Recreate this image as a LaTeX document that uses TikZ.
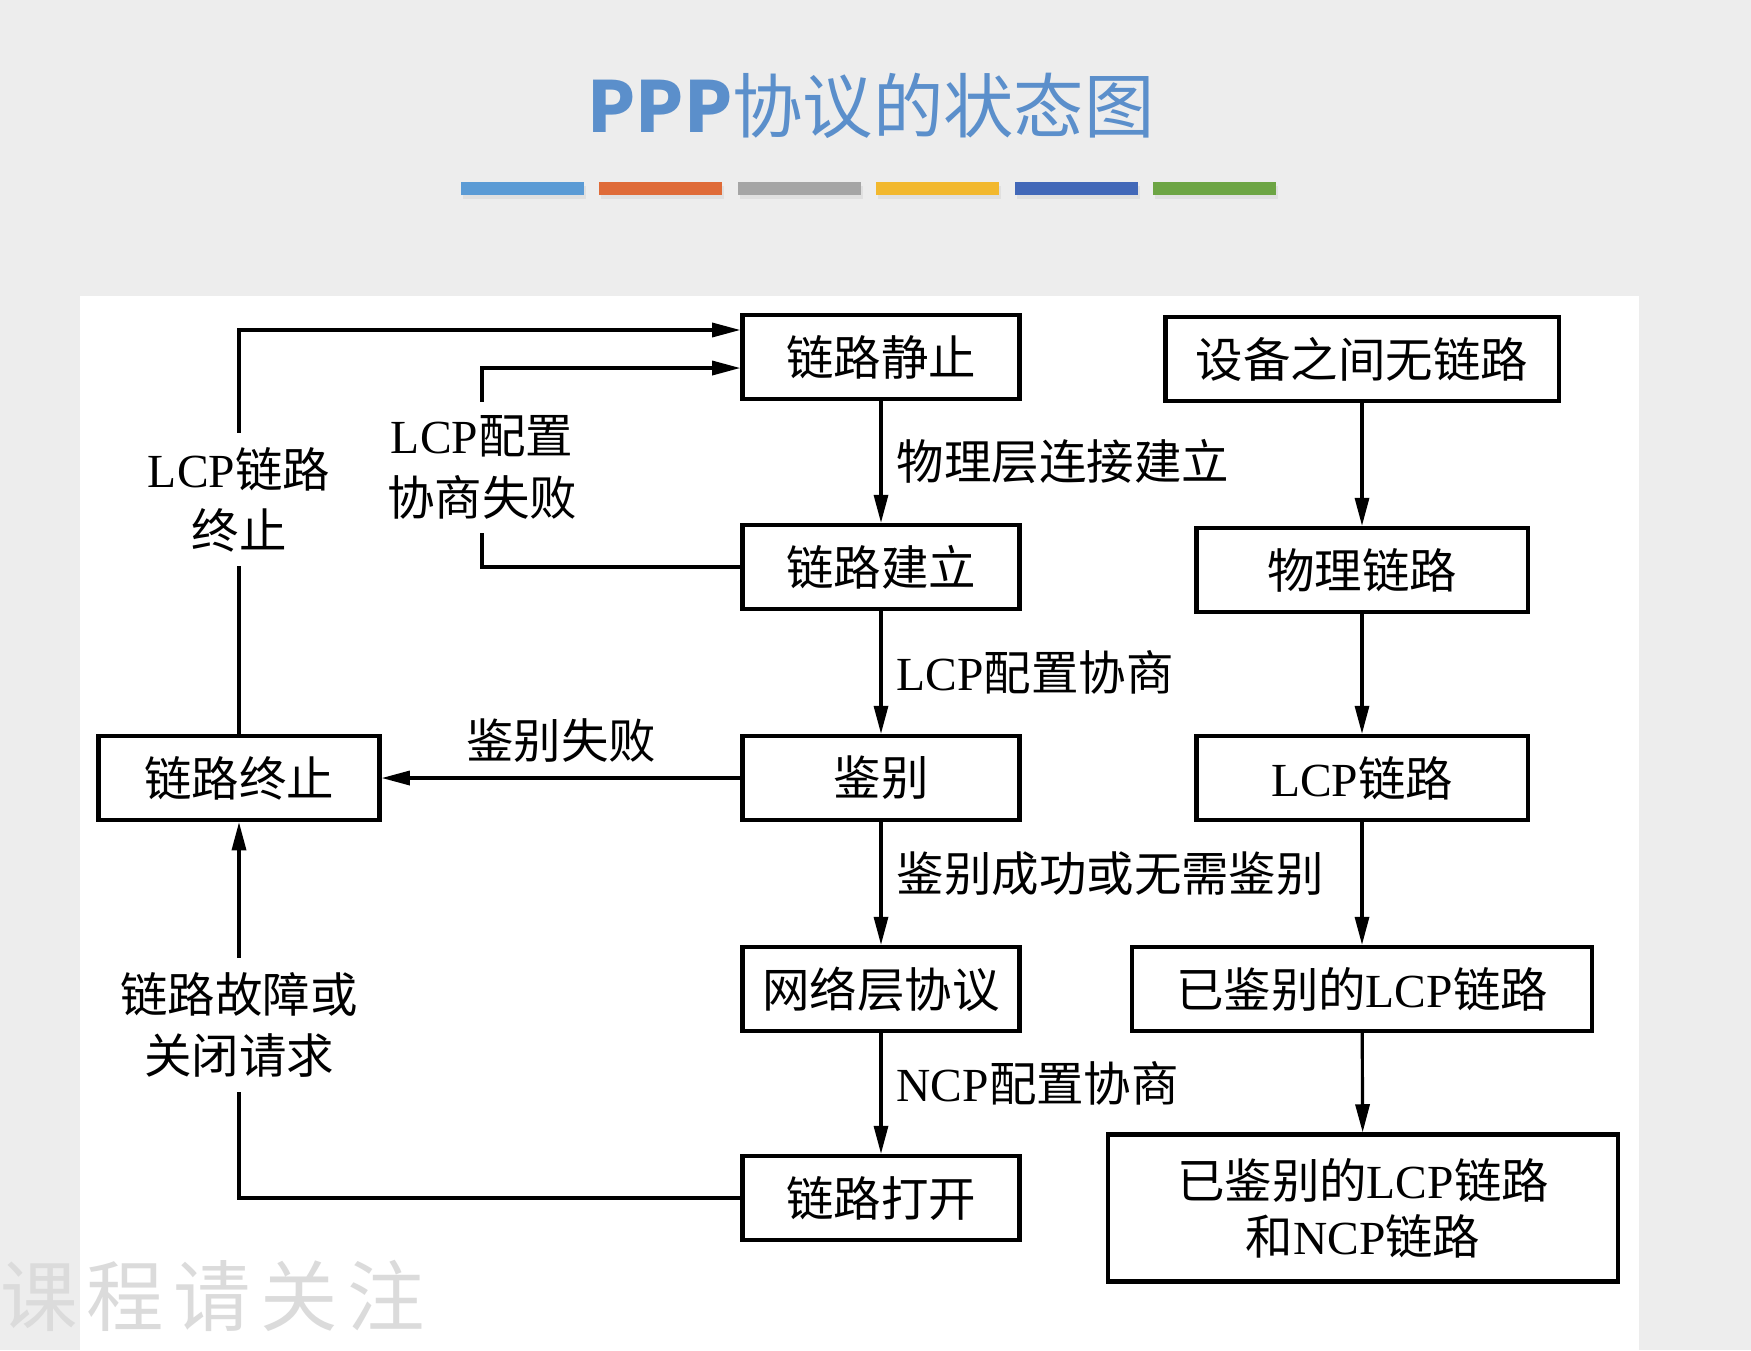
\documentclass[tikz,border=0pt]{standalone}
\usepackage{fontspec}
\setmainfont{Liberation Serif}
\newfontfamily\cjk{Noto Sans CJK SC}
\newfontfamily\wmfont{Noto Sans CJK SC}[LetterSpace=12]
\usetikzlibrary{arrows.meta,calc}
\definecolor{bggray}{HTML}{EDEDED}
\definecolor{titleblue}{HTML}{5B8FCB}
\definecolor{bara}{HTML}{5B9BD5}
\definecolor{barb}{HTML}{DF6B38}
\definecolor{barc}{HTML}{A5A5A5}
\definecolor{bard}{HTML}{F2B82E}
\definecolor{bare}{HTML}{4268B8}
\definecolor{barf}{HTML}{6DA544}
\newcommand\lat[1]{{\rmfamily #1}}

\begin{document}
\begin{tikzpicture}[x=0.01cm,y=-0.01cm,
  statebox/.style={draw,line width=1.2pt,minimum height=0.84cm,inner sep=0pt,align=center,font=\cjk\fontsize{13.5}{16}\selectfont},
  lbl/.style={align=center,inner sep=4pt,font=\cjk\fontsize{13.5}{17.5}\selectfont},
  arr/.style={line width=0.9pt,-{Triangle[length=8pt,width=4pt]}}]
  \useasboundingbox (0,0) rectangle (1751,1350);
  \fill[bggray] (0,0) rectangle (1751,1350);
  \fill[white] (80,296) rectangle (1639,1350);
  \foreach \c [count=\i from 0] in {bara,barb,barc,bard,bare,barf} {
    \fill[black!12] ({463+\i*138.4},186) rectangle ++(123,13);
    \fill[\c] ({461+\i*138.4},182) rectangle ++(123,13);
  }
  \node[font=\cjk\fontsize{20}{20}\selectfont,text=titleblue] (title) at (871,106) {\textbf{PPP}协议的状态图};
  \node[anchor=west,text=black!14,font=\wmfont\fontsize{22}{22}\selectfont] (mark) at (-12,1296) {课程请关注};

  \node[statebox,minimum width=2.77cm] (stat) at (881,357) {链路静止};
  \node[statebox,minimum width=2.77cm] (est) at (881,567) {链路建立};
  \node[statebox,minimum width=2.77cm] (auth) at (881,778) {鉴别};
  \node[statebox,minimum width=2.77cm] (net) at (881,989) {网络层协议};
  \node[statebox,minimum width=2.77cm] (open) at (881,1198) {链路打开};
  \node[statebox,minimum width=2.81cm] (term) at (239,778) {链路终止};

  \node[statebox,minimum width=3.93cm] (nolink) at (1362,359) {设备之间无链路};
  \node[statebox,minimum width=3.31cm] (phys) at (1362,570) {物理链路};
  \node[statebox,minimum width=3.31cm] (lcp) at (1362,778) {\lat{LCP}链路};
  \node[statebox,minimum width=4.59cm] (authlcp) at (1362,989) {已鉴别的\lat{LCP}链路};
  \node[statebox,minimum width=5.10cm,minimum height=1.47cm] (both) at (1363,1208) {已鉴别的\lat{LCP}链路\\和\lat{NCP}链路};

  \coordinate (in1) at ([yshift=0.27cm]stat.west);
  \coordinate (in2) at ([yshift=-0.11cm]stat.west);
  \coordinate (fbx) at (482,0);

  \draw[arr] (stat) -- node[lbl,right] {物理层连接建立} (est);
  \draw[arr] (est) -- node[lbl,right] {\lat{LCP}配置协商} (auth);
  \draw[arr] (auth) -- node[lbl,right,yshift=1mm] {鉴别成功或无需鉴别} (net);
  \draw[arr] (net) -- node[lbl,right,yshift=1mm] {\lat{NCP}配置协商} (open);
  \draw[arr] (auth) -- node[lbl,above] {鉴别失败} (term);
  \draw[arr] (term.north) |- node[lbl,fill=white,pos=0.29] {\lat{LCP}链路\\终止} (in1);
  \draw[arr] (est.west) -- (est.west -| fbx) -- node[lbl,fill=white] {\lat{LCP}配置\\协商失败} (fbx |- in2) -- (in2);
  \draw[arr] (open.west) -| node[lbl,fill=white,pos=0.73] {链路故障或\\关闭请求} (term.south);

  \draw[arr] (nolink) -- (phys);
  \draw[arr] (phys) -- (lcp);
  \draw[arr] (lcp) -- (authlcp);
  \draw[arr] (authlcp) -- (both);
\end{tikzpicture}
\end{document}
